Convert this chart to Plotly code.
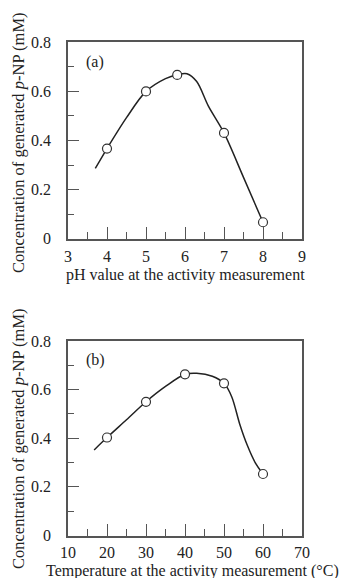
import plotly.graph_objects as go

# Panel (a): pH
ph_points = [4.0, 5.0, 5.8, 7.0, 8.0]
ph_values = [0.367, 0.600, 0.667, 0.431, 0.067]
ph_curve_x = [3.7, 4.0, 4.5, 5.0, 5.5, 5.8, 6.05, 6.3, 6.6, 7.0, 7.5, 8.0]
ph_curve_y = [0.286, 0.367, 0.493, 0.600, 0.652, 0.668, 0.672, 0.640, 0.540, 0.431, 0.250, 0.067]

# Panel (b): temperature
temp_points = [20, 30, 40, 50, 60]
temp_values = [0.403, 0.550, 0.663, 0.626, 0.253]
temp_curve_x = [16.7, 20, 25, 30, 35, 40, 43, 47, 50, 52, 54, 56, 58, 60]
temp_curve_y = [0.352, 0.403, 0.476, 0.550, 0.613, 0.663, 0.667, 0.655, 0.626, 0.570, 0.460, 0.370, 0.300, 0.253]

y_ticks = [0, 0.2, 0.4, 0.6, 0.8]
y_ticktext = ["0", "0.2", "0.4", "0.6", "0.8"]

FONT = "Liberation Serif"
LINE = "#222222"
AX = "#555555"
W, H = 342, 578

fig = go.Figure()
fig.add_trace(go.Scatter(x=ph_curve_x, y=ph_curve_y, mode="lines",
                         line=dict(color=LINE, width=1.5, shape="spline", smoothing=0.9),
                         xaxis="x", yaxis="y", showlegend=False, hoverinfo="skip"))
fig.add_trace(go.Scatter(x=ph_points, y=ph_values, mode="markers",
                         marker=dict(symbol="circle", size=9, color="white",
                                     line=dict(color="#333333", width=1.2)),
                         xaxis="x", yaxis="y", showlegend=False))
fig.add_trace(go.Scatter(x=temp_curve_x, y=temp_curve_y, mode="lines",
                         line=dict(color=LINE, width=1.5, shape="spline", smoothing=0.9),
                         xaxis="x2", yaxis="y2", showlegend=False, hoverinfo="skip"))
fig.add_trace(go.Scatter(x=temp_points, y=temp_values, mode="markers",
                         marker=dict(symbol="circle", size=9, color="white",
                                     line=dict(color="#333333", width=1.2)),
                         xaxis="x2", yaxis="y2", showlegend=False))

common_x = dict(showgrid=False, zeroline=False, showline=True, mirror=True, automargin=False,
                linecolor=AX, linewidth=1.5, ticks="inside", ticklen=12, tickwidth=1.2,
                tickcolor=AX, tickfont=dict(family=FONT, size=16, color="#222"),
                ticklabelstandoff=2)
common_y = dict(showgrid=False, zeroline=False, showline=True, mirror=True, automargin=False,
                linecolor=AX, linewidth=1.5, ticks="inside", ticklen=11, tickwidth=1.2,
                tickcolor=AX, tickfont=dict(family=FONT, size=16, color="#222"),
                range=[0, 0.8], tickvals=y_ticks, ticktext=y_ticktext,
                minor=dict(ticks="inside", ticklen=6, dtick=0.1, tickcolor=AX, tickwidth=1.2),
                ticklabelstandoff=12)


def px_x(p):
    return p / W


def px_y(p):
    return 1 - p / H


xd = [px_x(68), px_x(302)]
title_font = dict(family=FONT, size=16, color="#222")
ytitle = "Concentration of generated <i>p</i>-NP (mM)"

fig.update_layout(
    width=W, height=H,
    margin=dict(l=0, r=0, t=0, b=0),
    paper_bgcolor="white", plot_bgcolor="white",
    font=dict(family=FONT, color="#222"),
    xaxis=dict(common_x, domain=xd, anchor="y", range=[3, 9], dtick=1,
               minor=dict(ticks="inside", ticklen=7, dtick=0.5, tickcolor=AX, tickwidth=1.2)),
    yaxis=dict(common_y, domain=[px_y(238.7), px_y(42.3)], anchor="x"),
    xaxis2=dict(common_x, domain=xd, anchor="y2", range=[10, 70], dtick=10,
                minor=dict(ticks="inside", ticklen=7, dtick=5, tickcolor=AX, tickwidth=1.2)),
    yaxis2=dict(common_y, domain=[px_y(535.5), px_y(341)], anchor="x2"),
    annotations=[
        dict(text="(a)", x=0.07, y=0.9, xref="x domain", yref="y domain",
             xanchor="left", yanchor="middle", showarrow=False, font=title_font),
        dict(text="(b)", x=0.07, y=0.9, xref="x2 domain", yref="y2 domain",
             xanchor="left", yanchor="middle", showarrow=False, font=title_font),
        dict(text="pH value at the activity measurement", x=px_x(185.5), y=px_y(275),
             xref="paper", yref="paper", xanchor="center", yanchor="middle",
             showarrow=False, font=title_font),
        dict(text="Temperature at the activity measurement (°C)", x=px_x(192.5), y=px_y(571),
             xref="paper", yref="paper", xanchor="center", yanchor="middle",
             showarrow=False, font=title_font),
        dict(text=ytitle, x=px_x(18), y=px_y(143), textangle=-90,
             xref="paper", yref="paper", xanchor="center", yanchor="middle",
             showarrow=False, font=dict(family=FONT, size=16.5, color="#222")),
        dict(text=ytitle, x=px_x(18), y=px_y(439), textangle=-90,
             xref="paper", yref="paper", xanchor="center", yanchor="middle",
             showarrow=False, font=dict(family=FONT, size=16.5, color="#222")),
    ],
)

fig.write_html("out.html", config={"displayModeBar": False},
               post_script="document.body.style.margin='0';document.body.style.overflow='hidden';")
